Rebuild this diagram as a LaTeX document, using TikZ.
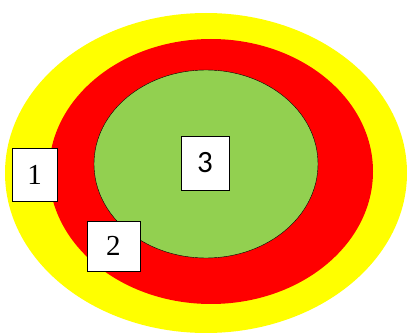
\documentclass[tikz,border=0pt]{standalone}
\usepackage{fontspec}
\setmainfont{Liberation Serif}
\newfontfamily\calfont{Carlito}
\usepackage{tikz}
\usetikzlibrary{shapes,calc}
\definecolor{ringyellow}{HTML}{FFFF00}
\definecolor{ringred}{HTML}{FF0000}
\definecolor{coregreen}{HTML}{92D050}

\begin{document}
\begin{tikzpicture}[x=1pt, y=-1pt,
        numbox/.style={draw, thick, fill=white, inner sep=0pt, font=\fontsize{29}{29}\selectfont}]
        \useasboundingbox (0,0) rectangle (408,334);
        \fill[ringyellow] (206,173) ellipse (201 and 160);
        \fill[ringred] (211,171.5) ellipse (162 and 132.5);
        \filldraw[fill=coregreen, draw=black, thin] (206,164) ellipse (112 and 94);
        \node[numbox, minimum width=45pt, minimum height=53pt] (one) at (34.5,174.5) {1};
        \node[numbox, minimum width=53pt, minimum height=50pt] (two) at (113.5,246) {2};
        \node[numbox, minimum width=48pt, minimum height=54pt, font=\calfont\fontsize{31}{31}\selectfont] (three) at (205,163) {3};
    \end{tikzpicture}
\end{document}
